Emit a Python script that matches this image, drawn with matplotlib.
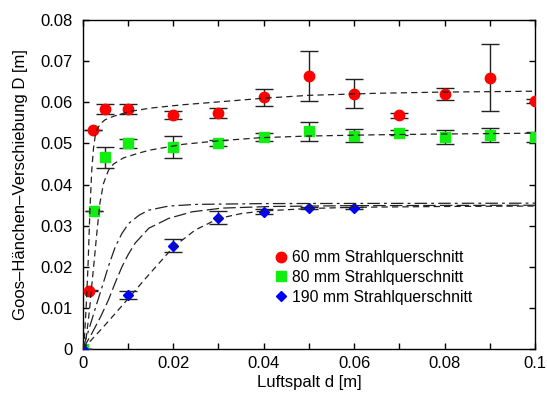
import matplotlib
matplotlib.use("Agg")
import matplotlib.pyplot as plt
from matplotlib.lines import Line2D
from matplotlib.ticker import MultipleLocator, FuncFormatter

plt.rcParams['font.family'] = ['Liberation Sans', 'DejaVu Sans']
plt.rcParams['lines.scale_dashes'] = False

# Messwerte
x_red = [0, 0.0013, 0.0022, 0.005, 0.01, 0.02, 0.03, 0.04, 0.05, 0.06, 0.07, 0.08, 0.09, 0.1]
y_red = [0, 0.0142, 0.0533, 0.0583, 0.0583, 0.0569, 0.0575, 0.0612, 0.0664, 0.0621, 0.0569, 0.0621, 0.0660, 0.0604]
e_red = [0.0001, 0.0001, 0, 0.0012, 0.0012, 0.0009, 0.0012, 0.0021, 0.0061, 0.0035, 0.0006, 0.0015, 0.0081, 0.0005]

x_green = [0, 0.0025, 0.005, 0.01, 0.02, 0.03, 0.04, 0.05, 0.06, 0.07, 0.08, 0.09, 0.1]
y_green = [0, 0.0336, 0.0466, 0.0500, 0.0492, 0.0502, 0.0516, 0.0530, 0.0519, 0.0526, 0.0516, 0.0520, 0.0516]
e_green = [0.0001, 0.0001, 0.0025, 0.001, 0.0027, 0.0007, 0.001, 0.0023, 0.0016, 0.0006, 0.0017, 0.0017, 0.0013]

x_blue = [0, 0.01, 0.02, 0.03, 0.04, 0.05, 0.06]
y_blue = [0, 0.0131, 0.0252, 0.0320, 0.0334, 0.0343, 0.0343]
e_blue = [0.0001, 0.001, 0.0016, 0.0015, 0.0006, 0.0003, 0.0003]

# Fitkurven
fit_red_x = [0, 0.0004, 0.0008, 0.0012, 0.0016, 0.002, 0.0024, 0.0028, 0.0033, 0.004, 0.005, 0.0068,
             0.0086, 0.0105, 0.015, 0.022, 0.03, 0.04, 0.05, 0.065, 0.08, 0.1]
fit_red_y = [0, 0.003, 0.011, 0.021, 0.034, 0.0435, 0.049, 0.0521, 0.0537, 0.0549, 0.0558, 0.0566,
             0.0572, 0.0578, 0.0586, 0.0594, 0.0601, 0.0610, 0.0617, 0.0622, 0.0625, 0.0627]

fit_green_x = [0, 0.0008, 0.0015, 0.002, 0.0025, 0.0031, 0.0038, 0.0046, 0.0057, 0.0068, 0.009, 0.0125,
               0.0149, 0.0222, 0.0296, 0.0392, 0.0495, 0.0642, 0.079, 0.1]
fit_green_y = [0, 0.003, 0.0095, 0.0155, 0.021, 0.028, 0.0355, 0.0403, 0.0435, 0.0450, 0.0465, 0.0477,
               0.0484, 0.0498, 0.0506, 0.0514, 0.0518, 0.0521, 0.0523, 0.0525]

fit_a_x = [0, 0.001, 0.002, 0.003, 0.0043, 0.0057, 0.0072, 0.0087, 0.0102, 0.0125, 0.0146, 0.019, 0.025, 0.04, 0.1]
fit_a_y = [0, 0.0035, 0.0071, 0.0107, 0.0152, 0.0202, 0.0249, 0.0282, 0.0306, 0.0326, 0.0338, 0.0348, 0.0352, 0.0354, 0.0355]

fit_b_x = [0, 0.002, 0.004, 0.0057, 0.0072, 0.0087, 0.0101, 0.0116, 0.0146, 0.019, 0.0242, 0.0308, 0.0419, 0.06, 0.1]
fit_b_y = [0, 0.0038, 0.008, 0.012, 0.0162, 0.0201, 0.0231, 0.0258, 0.0294, 0.0318, 0.0334, 0.0343, 0.0347, 0.0349, 0.035]

fit_c_x = [0, 0.0043, 0.0072, 0.0102, 0.0146, 0.0201, 0.0249, 0.0301, 0.0352, 0.04, 0.05, 0.06, 0.08, 0.1]
fit_c_y = [0, 0.0051, 0.0087, 0.0125, 0.0181, 0.0249, 0.029, 0.0318, 0.033, 0.0336, 0.0342, 0.0345, 0.0347, 0.0348]

labels = ["60 mm Strahlquerschnitt", "80 mm Strahlquerschnitt", "190 mm Strahlquerschnitt"]

fig = plt.figure(figsize=(5.47, 3.94), dpi=100)
ax = fig.add_axes([0.1512, 0.1135, 0.8268, 0.8357])

err_kw = dict(ls="none", ecolor="#222222", elinewidth=1.0, capsize=6.5, capthick=1.0)
ax.errorbar(x_red, y_red, yerr=e_red, marker="o", ms=7.5, mfc="#ff0000", mec="#ff0000", zorder=3, **err_kw)
ax.errorbar(x_green, y_green, yerr=e_green, marker="s", ms=6.5, mfc="#11ee11", mec="#11ee11", zorder=3, **err_kw)
ax.errorbar(x_blue, y_blue, yerr=e_blue, marker="D", ms=5.5, mfc="#0000ff", mec="#0000ff", zorder=3, **err_kw)

fit_kw = dict(color="#222222", lw=0.9, zorder=4)
ax.plot(fit_red_x, fit_red_y, dashes=(4.5, 3), **fit_kw)
ax.plot(fit_green_x, fit_green_y, dashes=(4.5, 3), **fit_kw)
ax.plot(fit_a_x, fit_a_y, dashes=(9, 3, 2, 3), **fit_kw)
ax.plot(fit_b_x, fit_b_y, dashes=(9, 3), **fit_kw)
ax.plot(fit_c_x, fit_c_y, dashes=(4.5, 3), **fit_kw)

ax.set_xlim(0, 0.1)
ax.set_ylim(0, 0.08)
ax.xaxis.set_major_locator(MultipleLocator(0.02))
ax.xaxis.set_minor_locator(MultipleLocator(0.01))
ax.yaxis.set_major_locator(MultipleLocator(0.01))
fmt = FuncFormatter(lambda v, p: "%g" % round(v, 4))
ax.xaxis.set_major_formatter(fmt)
ax.yaxis.set_major_formatter(fmt)
ax.tick_params(which="both", direction="in", top=True, right=True, length=4, width=1, labelsize=12)
ax.tick_params(axis="y", pad=7)
ax.tick_params(axis="x", pad=5)
for s in ax.spines.values():
    s.set_linewidth(1.0)

ax.set_xlabel("Luftspalt d [m]", fontsize=12, labelpad=3)
ax.set_ylabel("Goos–Hänchen–Verschiebung D [m]", fontsize=12, labelpad=9)

handles = [
    Line2D([], [], ls="none", marker="o", ms=7.5, color="#ff0000"),
    Line2D([], [], ls="none", marker="s", ms=6.5, color="#11ee11"),
    Line2D([], [], ls="none", marker="D", ms=5.5, color="#0000ff"),
]
ax.legend(handles, labels, loc="upper left", bbox_to_anchor=(0.415, 0.32), frameon=False,
          fontsize=11.3, handlelength=0.6, handletextpad=0.4, labelspacing=0.3, borderaxespad=0)

fig.savefig("out.png", dpi=100)
plt.close(fig)
